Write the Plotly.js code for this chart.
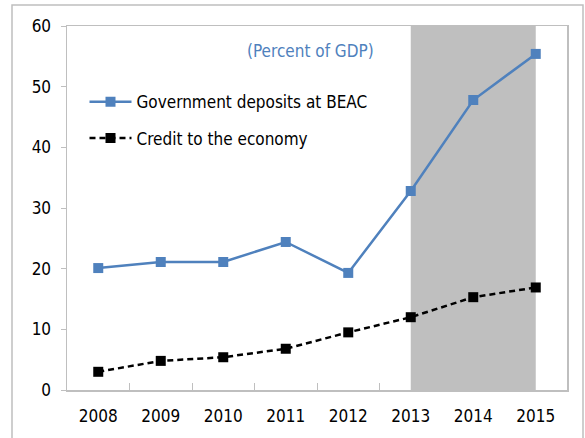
<!DOCTYPE html>
<html>
<head>
<meta charset="utf-8">
<script src="https://cdn.plot.ly/plotly-3.0.1.min.js"></script>
<style>html,body{margin:0;padding:0;background:#fff;}#chart{width:585px;height:438px;}</style>
</head>
<body>
<div id="chart"></div>
<script>
const years = ['2008','2009','2010','2011','2012','2013','2014','2015'];
const govDeposits = [20.1, 21.1, 21.1, 24.4, 19.3, 32.8, 47.8, 55.4];
const creditEconomy = [3.0, 4.8, 5.4, 6.8, 9.5, 12.0, 15.3, 16.9];
const yTicks = [0, 10, 20, 30, 40, 50, 60];
const shadeFrom = '2013';
const shadeTo = '2015';

const FONT = '"Liberation Sans Narrow", "DejaVu Sans Condensed", "Open Sans", sans-serif';
const grey = '#BFBFBF';

const traces = [
  {
    x: years, y: govDeposits, name: 'Government deposits at BEAC', legendgroup: 'a',
    type: 'scatter', mode: 'lines+markers',
    line: {color: '#4F81BD', width: 2.5},
    marker: {symbol: 'square', size: 10, color: '#4F81BD'}
  },
  {
    x: years, y: creditEconomy, name: 'Credit to the economy', legendgroup: 'b',
    type: 'scatter', mode: 'lines+markers',
    line: {color: '#000000', width: 2.5, dash: '6px,4px'},
    marker: {symbol: 'square', size: 10, color: '#000000'}
  }
];

const layout = {
  width: 585, height: 438,
  margin: {l: 67, r: 18, t: 26, b: 48},
  paper_bgcolor: '#ffffff', plot_bgcolor: '#ffffff',
  font: {family: FONT, size: 17, color: '#000'},
  showlegend: true,
  legend: {
    x: 0.035, y: 0.84, xanchor: 'left', yanchor: 'top',
    bgcolor: 'rgba(0,0,0,0)', font: {family: FONT, size: 17, color: '#000'},
    traceorder: 'grouped', tracegroupgap: 11, itemwidth: 42
  },
  xaxis: {
    type: 'category', range: [-0.5, years.length - 0.5],
    tickson: 'boundaries', ticks: 'inside', ticklen: 7, tickcolor: grey, tickwidth: 1,
    showline: true, linecolor: grey, linewidth: 1.5, mirror: true,
    showgrid: false, zeroline: false, ticklabelstandoff: 10,
    tickfont: {family: FONT, size: 17, color: '#000'}
  },
  yaxis: {
    range: [0, 60], tickvals: yTicks, ticks: 'outside', ticklen: 5, tickcolor: grey, tickwidth: 1,
    showline: true, linecolor: grey, linewidth: 1.5, mirror: true,
    showgrid: false, zeroline: false, ticklabelstandoff: 6,
    tickfont: {family: FONT, size: 17, color: '#000'}
  },
  shapes: [
    {
      type: 'rect', xref: 'x', yref: 'paper',
      x0: years.indexOf(shadeFrom), x1: years.indexOf(shadeTo), y0: 0, y1: 1,
      fillcolor: '#BFBFBF', line: {width: 0}, layer: 'below'
    },
    {
      type: 'rect', xref: 'paper', yref: 'paper',
      x0: -0.11, x1: 1.032, y0: -0.16, y1: 1.0577,
      fillcolor: 'rgba(0,0,0,0)', line: {color: grey, width: 1.5}, layer: 'above'
    }
  ],
  annotations: [
    {
      text: '(Percent of GDP)', xref: 'paper', yref: 'paper',
      x: 0.486, y: 0.93, xanchor: 'center', yanchor: 'middle', showarrow: false,
      font: {family: FONT, size: 17, color: '#4F81BD'}
    }
  ]
};

Plotly.newPlot('chart', traces, layout, {displayModeBar: false, staticPlot: true});
</script>
</body>
</html>
